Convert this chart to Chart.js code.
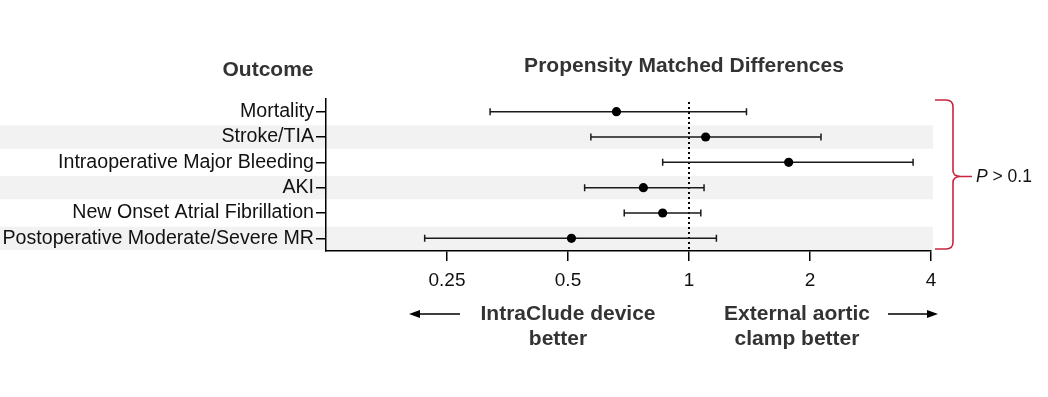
<!DOCTYPE html>
<html>
<head>
<meta charset="utf-8">
<script src="https://cdn.jsdelivr.net/npm/chart.js@4.4.1/dist/chart.umd.min.js"></script>
<style>
  html, body { margin: 0; padding: 0; background: #fff; }
  #wrap { position: relative; width: 1048px; height: 397px; }
</style>
</head>
<body>
<div id="wrap"><canvas id="c" width="1048" height="397"></canvas></div>
<script>
const outcomes = [
  "Mortality",
  "Stroke/TIA",
  "Intraoperative Major Bleeding",
  "AKI",
  "New Onset Atrial Fibrillation",
  "Postoperative Moderate/Severe MR"
];
const estimates = [0.66, 1.10, 1.77, 0.77, 0.86, 0.51];
const lowerCI   = [0.32, 0.57, 0.86, 0.55, 0.69, 0.22];
const upperCI   = [1.39, 2.13, 3.61, 1.09, 1.07, 1.17];
const xTicks = [0.25, 0.5, 1, 2, 4];
const xMin = 0.125, xMax = 4;
const shadedRows = [1, 3, 5];
const refValue = 1;

const FONT = "'Liberation Sans', Arial, sans-serif";

const forestPlugin = {
  id: 'forest',
  beforeDraw(chart) {
    const ctx = chart.ctx, y = chart.scales.y, ca = chart.chartArea;
    ctx.save();
    ctx.fillStyle = '#f2f2f2';
    const h = (y.getPixelForValue(1) - y.getPixelForValue(0));
    shadedRows.forEach(i => {
      const py = y.getPixelForValue(i);
      ctx.fillRect(0, py - h * 0.46, ca.right + 2, h * 0.92);
    });
    ctx.restore();
  },
  beforeDatasetsDraw(chart) {
    const ctx = chart.ctx, x = chart.scales.x, y = chart.scales.y, ca = chart.chartArea;
    ctx.save();
    const rx = x.getPixelForValue(refValue);
    ctx.strokeStyle = '#000';
    ctx.lineWidth = 2;
    ctx.setLineDash([2, 3]);
    ctx.beginPath();
    ctx.moveTo(rx, ca.top + 3);
    ctx.lineTo(rx, ca.bottom);
    ctx.stroke();
    ctx.setLineDash([]);
    ctx.strokeStyle = '#1a1a1a';
    ctx.lineWidth = 1.5;
    outcomes.forEach((o, i) => {
      const py = y.getPixelForValue(i);
      const x1 = x.getPixelForValue(lowerCI[i]);
      const x2 = x.getPixelForValue(upperCI[i]);
      ctx.beginPath();
      ctx.moveTo(x1, py); ctx.lineTo(x2, py);
      ctx.moveTo(x1, py - 3.5); ctx.lineTo(x1, py + 3.5);
      ctx.moveTo(x2, py - 3.5); ctx.lineTo(x2, py + 3.5);
      ctx.stroke();
    });
    ctx.restore();
  },
  afterDraw(chart) {
    const ctx = chart.ctx;
    ctx.save();
    ctx.fillStyle = '#333';
    ctx.font = "bold 21px " + FONT;
    ctx.textAlign = 'center';
    ctx.textBaseline = 'middle';
    ctx.fillText('Outcome', 268, 70);
    ctx.fillText('Propensity Matched Differences', 684, 66);
    ctx.fillText('IntraClude device', 568, 314);
    ctx.fillText('better', 558, 339);
    ctx.fillText('External aortic', 797, 314);
    ctx.fillText('clamp better', 797, 339);

    ctx.strokeStyle = '#000';
    ctx.fillStyle = '#000';
    ctx.lineWidth = 1.5;
    ctx.beginPath();
    ctx.moveTo(418, 314); ctx.lineTo(460, 314);
    ctx.moveTo(888, 314); ctx.lineTo(929, 314);
    ctx.stroke();
    ctx.beginPath();
    ctx.moveTo(409, 314); ctx.lineTo(420, 310); ctx.lineTo(420, 318); ctx.closePath();
    ctx.fill();
    ctx.beginPath();
    ctx.moveTo(938, 314); ctx.lineTo(927, 310); ctx.lineTo(927, 318); ctx.closePath();
    ctx.fill();

    const top = 100, bot = 249, mid = (top + bot) / 2 + 2;
    ctx.strokeStyle = '#c8263f';
    ctx.lineWidth = 1.6;
    ctx.beginPath();
    ctx.moveTo(935, top);
    ctx.lineTo(946, top);
    ctx.quadraticCurveTo(953, top, 953, top + 7);
    ctx.lineTo(953, mid - 6);
    ctx.quadraticCurveTo(953, mid, 961, mid);
    ctx.lineTo(972, mid);
    ctx.moveTo(961, mid);
    ctx.quadraticCurveTo(953, mid, 953, mid + 6);
    ctx.lineTo(953, bot - 7);
    ctx.quadraticCurveTo(953, bot, 946, bot);
    ctx.lineTo(935, bot);
    ctx.stroke();

    ctx.fillStyle = '#111';
    ctx.textAlign = 'left';
    ctx.font = "italic 17.5px " + FONT;
    ctx.fillText('P', 976, mid + 1);
    const pw = ctx.measureText('P').width;
    ctx.font = "17.5px " + FONT;
    ctx.fillText(' > 0.1', 976 + pw, mid + 1);
    ctx.restore();
  }
};

new Chart(document.getElementById('c'), {
  type: 'scatter',
  data: {
    labels: outcomes,
    datasets: [{
      data: outcomes.map((o, i) => ({ x: estimates[i], y: o })),
      backgroundColor: '#000',
      borderWidth: 0,
      pointRadius: 4.6,
      pointHoverRadius: 4.6
    }]
  },
  options: {
    responsive: false,
    animation: false,
    events: [],
    layout: { padding: { top: 99, right: 117, bottom: 101, left: 0 }, autoPadding: false },
    plugins: { legend: { display: false }, tooltip: { enabled: false }, title: { display: false } },
    scales: {
      x: {
        type: 'logarithmic',
        min: xMin,
        max: xMax,
        afterBuildTicks: s => { s.ticks = xTicks.map(v => ({ value: v })); },
        afterFit: s => { s.height = 45; },
        ticks: {
          callback: v => String(v),
          color: '#111',
          font: { family: FONT, size: 19 },
          padding: 8,
          maxRotation: 0,
          autoSkip: false
        },
        grid: { drawOnChartArea: false, drawTicks: true, tickLength: 10, color: '#000', lineWidth: 1.5 },
        border: { display: true, color: '#000', width: 1.5 }
      },
      y: {
        type: 'category',
        labels: outcomes,
        offset: true,
        afterFit: s => { s.width = 326; },
        ticks: {
          color: '#111',
          font: { family: FONT, size: 19.6 },
          padding: 2,
          autoSkip: false
        },
        grid: { drawOnChartArea: false, drawTicks: true, tickLength: 10, color: '#000', lineWidth: 1.5, offset: false },
        border: { display: true, color: '#000', width: 1.5 }
      }
    }
  },
  plugins: [forestPlugin]
});
</script>
</body>
</html>
